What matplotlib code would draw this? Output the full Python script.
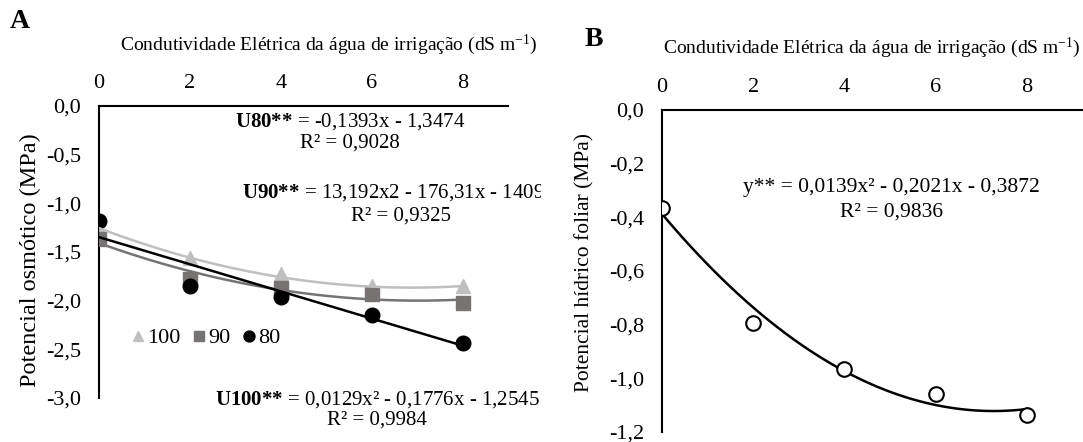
import numpy as np
import matplotlib
matplotlib.use("Agg")
import matplotlib.pyplot as plt
from matplotlib.transforms import Bbox, TransformedBbox

plt.rcParams['font.family'] = ['Liberation Serif', 'DejaVu Serif']
plt.rcParams['mathtext.fontset'] = 'custom'
plt.rcParams['mathtext.rm'] = 'Liberation Serif'
plt.rcParams['mathtext.it'] = 'Liberation Serif:italic'
plt.rcParams['mathtext.bf'] = 'Liberation Serif:bold'
plt.rcParams['axes.unicode_minus'] = False

# Condutividade elétrica (dS m-1)
ce = [0, 2, 4, 6, 8]

# Painel A - potencial osmótico (MPa) por nível de umidade
u100 = [-1.26, -1.56, -1.73, -1.85, -1.85]
u90 = [-1.37, -1.78, -1.87, -1.93, -2.02]
u80 = [-1.18, -1.85, -1.96, -2.15, -2.43]

# coeficientes das equações ajustadas (grau 2 e linear)
coef_u100 = [0.0129, -0.1776, -1.2545]
coef_u80 = [-0.1393, -1.3474]

# Painel B - potencial hídrico foliar (MPa)
phf = [-0.365, -0.795, -0.965, -1.06, -1.135]
coef_phf = [0.0139, -0.2021, -0.3872]

cor100 = '#bfbfbf'
cor90 = '#777373'
cor80 = '#000000'


def virgula(v, pos=None):
    if abs(v) < 1e-9:
        v = 0.0
    return f"{v:.1f}".replace('.', ',')


fig = plt.figure(figsize=(10.83, 4.42), dpi=100)
W, H = 1083, 442


def px(x0, y0, x1, y1):
    return [x0 / W, 1 - y1 / H, (x1 - x0) / W, (y1 - y0) / H]


axA = fig.add_axes(px(99, 106, 508, 398))
axB = fig.add_axes(px(662, 110, 1083, 432))

xs = np.linspace(0, 8, 100)

# ---- painel A ----
axA.plot(ce, u100, '^', color=cor100, ms=10.5, label='100', zorder=3)
axA.plot(ce, u90, 's', color=cor90, ms=10.5, label='90', zorder=3)
axA.plot(ce, u80, 'o', color=cor80, ms=10.5, label='80', zorder=3)
coef_u90 = np.polyfit(ce, u90, 2)
axA.plot(xs, np.polyval(coef_u100, xs), color=cor100, lw=1.8, zorder=4)
axA.plot(xs, np.polyval(coef_u90, xs), color=cor90, lw=1.8, zorder=4)
axA.plot(xs, np.polyval(coef_u80, xs), color=cor80, lw=1.8, zorder=4)
axA.set_xlim(0, 9)
axA.set_ylim(-3.0, 0)
axA.set_yticks(np.arange(-3.0, 0.01, 0.5))

# ---- painel B ----
axB.plot(ce, phf, 'o', mfc='white', mec='black', mew=1.5, ms=10.5, zorder=3)
axB.plot(xs, np.polyval(coef_phf, xs), color='black', lw=1.8, zorder=2)
axB.set_xlim(0, 9.23)
axB.set_ylim(-1.2, 0)
axB.set_yticks(np.arange(-1.2, 0.01, 0.2))

for ax in (axA, axB):
    ax.set_xticks(ce)
    ax.xaxis.tick_top()
    ax.yaxis.set_major_formatter(plt.FuncFormatter(virgula))
    ax.tick_params(length=0, labelsize=16)
    ax.tick_params(axis='x', pad=9)
    ax.tick_params(axis='y', pad=13)
    for s in ('right', 'bottom'):
        ax.spines[s].set_visible(False)
    for s in ('left', 'top'):
        ax.spines[s].set_linewidth(1.5)

leg = axA.legend(loc='center left', bbox_to_anchor=(0.06, 0.205), ncol=3,
                 frameon=False, fontsize=16, handlelength=0.5,
                 handletextpad=0.15, columnspacing=0.6, markerscale=0.75,
                 borderaxespad=0)

# recorte do painel A na margem original da imagem
clipA = TransformedBbox(Bbox([[0, 0], [541 / W, 1]]), fig.transFigure)

titulo = 'Condutividade Elétrica da água de irrigação (dS m$^{\\mathregular{-1}}$)'
t = fig.text(120 / W, 1 - 45 / H, titulo, fontsize=14, ha='left', va='center')
t.set_clip_box(clipA)
t.set_clip_on(True)
fig.text(663 / W, 1 - 48 / H, titulo, fontsize=14, ha='left', va='center')

fig.text(10 / W, 1 - 22 / H, 'A', fontsize=20, fontweight='bold', va='center')
fig.text(585 / W, 1 - 40 / H, 'B', fontsize=20, fontweight='bold', va='center')

fig.text(30 / W, 1 - 260 / H, 'Potencial osmótico (MPa)', rotation=90,
         fontsize=17.5, ha='center', va='center')
fig.text(585 / W, 1 - 262 / H, 'Potencial hídrico foliar (MPa)', rotation=90,
         fontsize=15.5, ha='center', va='center')

eqs = [
    (350, 122, r'$\mathbf{U80{*}{*}}$ = -0,1393x - 1,3474'),
    (350, 143, 'R² = 0,9028'),
    (401, 193, r'$\mathbf{U90{*}{*}}$ = 13,192x2 - 176,31x - 1409,7'),
    (401, 216, 'R² = 0,9325'),
    (377, 400, r'$\mathbf{U100{*}{*}}$ = 0,0129x² - 0,1776x - 1,2545'),
    (377, 420, 'R² = 0,9984'),
]
for x, y, s in eqs:
    tt = fig.text(x / W, 1 - y / H, s, fontsize=15, ha='center', va='center')
    tt.set_clip_box(clipA)
    tt.set_clip_on(True)

fig.text(891 / W, 1 - 187 / H, 'y** = 0,0139x² - 0,2021x - 0,3872',
         fontsize=15.5, ha='center', va='center')
fig.text(891 / W, 1 - 212 / H, 'R² = 0,9836', fontsize=15.5, ha='center',
         va='center')

fig.savefig('out.png', dpi=100)
